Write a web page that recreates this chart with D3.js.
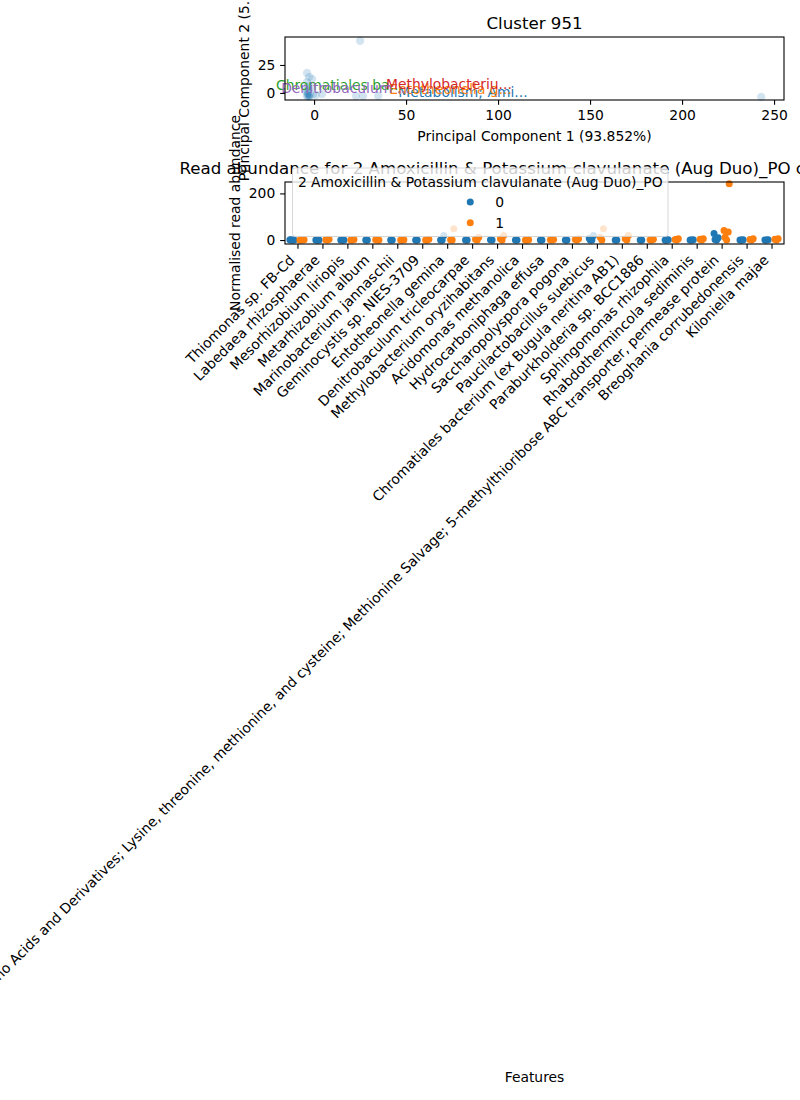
<!DOCTYPE html>
<html><head><meta charset="utf-8">
<script src="https://cdn.jsdelivr.net/npm/d3@7"></script>
<style>body{margin:0;background:#fff} text{font-family:"DejaVu Sans",sans-serif}</style>
</head><body><svg id="c" width="800" height="1100"></svg>
<script>
// ---------- PCA panel data ----------
const pcaTitle = "Cluster 951";
const pcaXLabel = "Principal Component 1 (93.852%)";
const pcaYLabel = "Principal Component 2 (5.143%)";
const pcaX = [25, -3.8, -2.7, -1.1, -3.8, -3.3, -3.8, -3.3, -3.8, -2.2, -0.5, 1, 4.3, 22.8, 26.6, 34.8, 243, -3.5, -3, -4, -2.5, -3, -2, -3.6, -2.8];
const pcaY = [46.7, 17.9, 14.3, 12.5, 9.8, 6.3, 2.7, 0, -2.7, -1.8, -0.9, -1.8, -0.9, -2.7, -2.7, -2.7, -3.6, -3, -2, 1, -3.5, 3, 5, -1, -2.5];
const pcaXTicks = [0, 50, 100, 150, 200, 250];
const pcaYTicks = [0, 25];
const annotTexts = ["Metabolism; Ami...", "Entotheonella g...", "Chromatiales ba...", "Methylobacteriu...", "Denitrobaculum ..."];
const annotX = [45.7, 40.8, -20.7, 39.1, -17.9];
const annotY = [-3.6, -0.9, 2.7, 3.6, 0];

// ---------- Strip panel data ----------
const stripTitle = "Read abundance for 2 Amoxicillin & Potassium clavulanate (Aug Duo)_PO cluster 951";
const stripYLabel = "Normalised read abundance";
const stripXLabel = "Features";
const legendTitle = "2 Amoxicillin & Potassium clavulanate (Aug Duo)_PO";
const hueLevels = ["0", "1"];
const categories = [
  "Thiomonas sp. FB-Cd",
  "Labedaea rhizosphaerae",
  "Mesorhizobium liriopis",
  "Metarhizobium album",
  "Marinobacterium jannaschii",
  "Geminocystis sp. NIES-3709",
  "Entotheonella gemina",
  "Denitrobaculum tricleocarpae",
  "Methylobacterium oryzihabitans",
  "Acidomonas methanolica",
  "Hydrocarboniphaga effusa",
  "Saccharopolyspora pogona",
  "Paucilactobacillus suebicus",
  "Chromatiales bacterium (ex Bugula neritina AB1)",
  "Paraburkholderia sp. BCC1886",
  "Sphingomonas rhizophila",
  "Rhabdothermincola sediminis",
  "Amino Acids and Derivatives; Lysine, threonine, methionine, and cysteine; Methionine Salvage; 5-methylthioribose ABC transporter, permease protein",
  "Breoghania corrubedonensis",
  "Kiloniella majae"
];
const group0 = [
  [0,0,0,1],[0,0,0],[0,0,0],[0,0],[0,0],[0,0],[0,0,20],[0,0],[0,1],[0,0],
  [0,0],[0,0],[0,0,20,8],[0,0],[0,0],[0,0,1],[0,0,1],[0,2,10,28],[0,0,1],[0,0,1]
];
const group1 = [
  [0,0,1,0],[0,1,3],[0,0,2],[0,1,0],[0,0,1],[0,0,3],[0,1,48],[0,3,12],[0,5,20],[0,0,1],
  [0,1,2],[0,2,5],[0,12,48],[0,5,20],[0,1,3],[0,2,5],[0,3,6],[0,12,35,41,241],[0,2,5],[0,3,6]
];
const stripYTicks = [0, 200];

// ---------- drawing ----------
const svg = d3.select("#c");
const FS = 13.89, TFS = 16.67, TL = 4.86, PAD = 4.86;
const palette = ["#1f77b4", "#ff7f0e", "#2ca02c", "#d62728", "#9467bd"];

// PCA axes
const P = {l: 285, r: 784, t: 37, b: 100};
const px = d3.scaleLinear().domain([-15.8, 255.4]).range([P.l, P.r]);
const py = d3.scaleLinear().domain([-6.3, 50]).range([P.b, P.t]);

const gP = svg.append("g");
gP.append("g").selectAll("circle").data(pcaX.map((x, i) => [x, pcaY[i]])).join("circle")
  .attr("cx", d => px(d[0])).attr("cy", d => py(d[1])).attr("r", 4.2)
  .attr("fill", palette[0]).attr("fill-opacity", 0.2)
  .attr("stroke", "#fff").attr("stroke-width", 0.7).attr("stroke-opacity", 0.2);

gP.append("g").selectAll("text").data(annotTexts).join("text")
  .attr("x", (d, i) => px(annotX[i])).attr("y", (d, i) => py(annotY[i]))
  .attr("fill", (d, i) => palette[i]).attr("font-size", FS).text(d => d);

const xAxP = d3.axisBottom(px).tickValues(pcaXTicks).tickSize(TL).tickPadding(PAD).tickFormat(d3.format("d"));
const yAxP = d3.axisLeft(py).tickValues(pcaYTicks).tickSize(TL).tickPadding(PAD).tickFormat(d3.format("d"));
function styleAxis(g) {
  g.select(".domain").remove();
  g.selectAll("line").attr("stroke", "#000").attr("stroke-width", 1.1);
  g.selectAll("text").attr("font-size", FS).attr("fill", "#000").attr("font-family", "DejaVu Sans");
}
gP.append("g").attr("transform", `translate(0,${P.b})`).call(xAxP).call(styleAxis);
gP.append("g").attr("transform", `translate(${P.l},0)`).call(yAxP).call(styleAxis);
gP.append("rect").attr("x", P.l).attr("y", P.t).attr("width", P.r - P.l).attr("height", P.b - P.t)
  .attr("fill", "none").attr("stroke", "#000").attr("stroke-width", 1.1);
gP.append("text").attr("x", (P.l + P.r) / 2).attr("y", P.t - 8.3).attr("text-anchor", "middle")
  .attr("font-size", TFS).text(pcaTitle);
gP.append("text").attr("x", (P.l + P.r) / 2).attr("y", 141).attr("text-anchor", "middle")
  .attr("font-size", FS).text(pcaXLabel);
gP.append("text").attr("transform", `translate(249,${(P.t + P.b) / 2}) rotate(-90)`).attr("text-anchor", "middle")
  .attr("font-size", FS).text(pcaYLabel);

// Strip axes
const S = {l: 285, r: 784, t: 182, b: 244};
const sx = d3.scaleLinear().domain([-0.5, categories.length - 0.5]).range([S.l, S.r]);
const sy = d3.scaleLinear().domain([-17, 249]).range([S.b, S.t]);
const gS = svg.append("g");

gS.append("text").attr("x", (S.l + S.r) / 2).attr("y", S.t - 8.3).attr("text-anchor", "middle")
  .attr("font-size", TFS).text(stripTitle);

const jit = [0, -1.6, 1.6, -2.6, 2.6];
const groups = [group0, group1];
const dodge = [-5, 5];
const pts = [];
categories.forEach((c, i) => {
  groups.forEach((g, h) => {
    g[i].forEach((v, j) => pts.push({i, h, v, j}));
  });
});
gS.append("g").selectAll("circle").data(pts).join("circle")
  .attr("cx", d => sx(d.i) + dodge[d.h] + jit[d.j % jit.length])
  .attr("cy", d => sy(d.v)).attr("r", 3.5)
  .attr("fill", d => palette[d.h]);

const xAxS = d3.axisBottom(sx).tickValues(d3.range(categories.length)).tickSize(TL).tickFormat("");
const yAxS = d3.axisLeft(sy).tickValues(stripYTicks).tickSize(TL).tickPadding(PAD).tickFormat(d3.format("d"));
gS.append("g").attr("transform", `translate(0,${S.b})`).call(xAxS).call(styleAxis);
gS.append("g").attr("transform", `translate(${S.l},0)`).call(yAxS).call(styleAxis);
gS.append("g").selectAll("text").data(categories).join("text")
  .attr("transform", (d, i) => `translate(${sx(i) - 2},${S.b + 17}) rotate(-45)`)
  .attr("text-anchor", "end").attr("font-size", FS).text(d => d);
gS.append("rect").attr("x", S.l).attr("y", S.t).attr("width", S.r - S.l).attr("height", S.b - S.t)
  .attr("fill", "none").attr("stroke", "#000").attr("stroke-width", 1.1);

gS.append("text").attr("x", (S.l + S.r) / 2).attr("y", 1082).attr("text-anchor", "middle")
  .attr("font-size", FS).text(stripXLabel);
gS.append("text").attr("transform", `translate(240,${(S.t + S.b) / 2}) rotate(-90)`).attr("text-anchor", "middle")
  .attr("font-size", FS).text(stripYLabel);

// Legend
const L = {x: 292.5, y: 168, w: 375.5, h: 68.5};
const gL = svg.append("g");
gL.append("rect").attr("x", L.x).attr("y", L.y).attr("width", L.w).attr("height", L.h).attr("rx", 2.8)
  .attr("fill", "#fff").attr("fill-opacity", 0.8).attr("stroke", "#ccc").attr("stroke-opacity", 0.8).attr("stroke-width", 1);
const lcx = L.x + L.w / 2;
gL.append("text").attr("x", lcx).attr("y", 186.5).attr("text-anchor", "middle").attr("font-size", FS).text(legendTitle);
hueLevels.forEach((lv, k) => {
  const cy = 202 + k * 20.7;
  gL.append("circle").attr("cx", lcx - 10).attr("cy", cy).attr("r", 3.5).attr("fill", palette[k]);
  gL.append("text").attr("x", lcx + 15).attr("y", cy + 5).attr("font-size", FS).text(lv);
});
</script></body></html>
